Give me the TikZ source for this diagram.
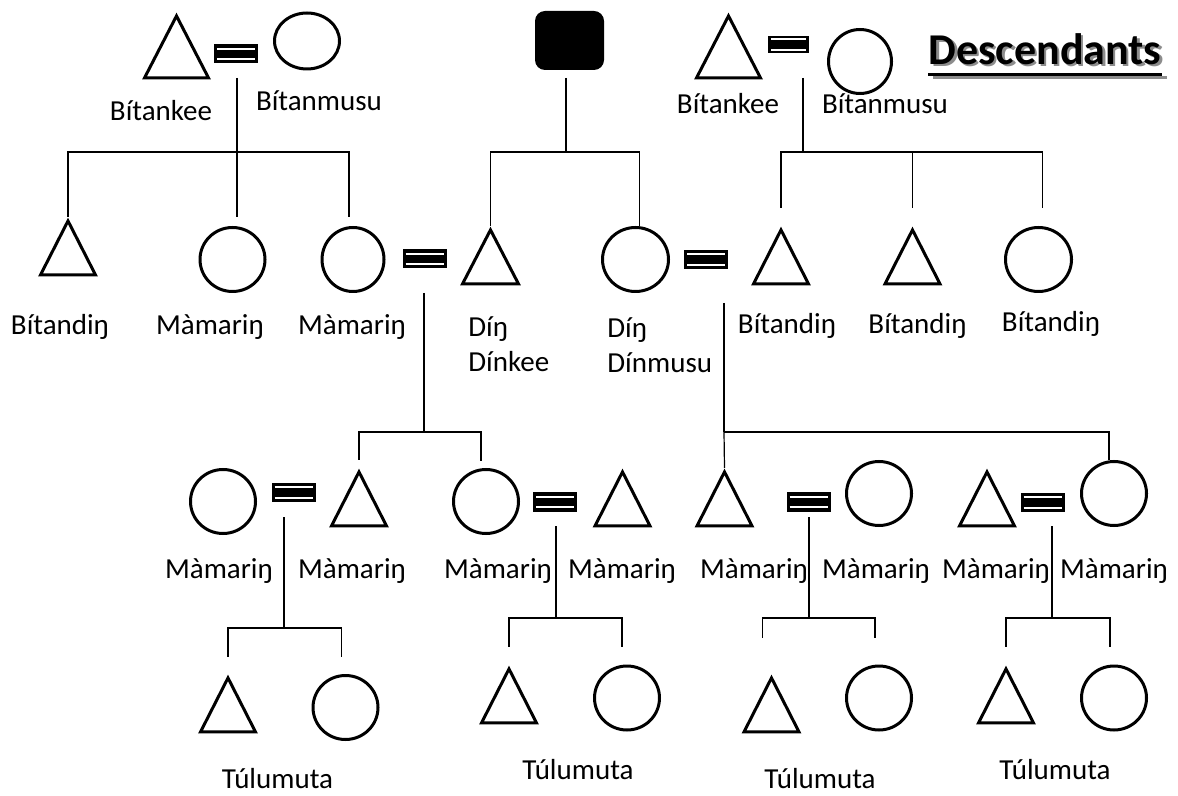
\documentclass[tikz,border=0pt]{standalone}
\usepackage{fontspec}
\setmainfont{Carlito}
\usetikzlibrary{shapes.geometric}

\begin{document}
\begin{tikzpicture}[x=0.5pt,y=-0.5pt,
  kee/.style={isosceles triangle, shape border rotate=90, isosceles triangle stretches,
    draw, line width=1.5pt, inner sep=0pt, anchor=apex, minimum width=27.5pt, minimum height=27pt},
  bigkee/.style={kee, minimum width=32pt, minimum height=31pt},
  musu/.style={ellipse, draw, line width=1.5pt, inner sep=0pt, minimum width=32.5pt, minimum height=32pt},
  wed/.style={rectangle, fill=black, inner sep=0pt, minimum width=22pt, minimum height=9.5pt,
    path picture={\draw[white, line width=1pt]
      ([xshift=1.5pt,yshift=2.7pt]path picture bounding box.west) -- ([xshift=-1.5pt,yshift=2.7pt]path picture bounding box.east)
      ([xshift=1.5pt,yshift=-2.7pt]path picture bounding box.west) -- ([xshift=-1.5pt,yshift=-2.7pt]path picture bounding box.east);}},
  link/.style={line width=0.6pt},
  lab/.style={inner sep=0pt, font=\fontsize{14.5}{17.5}\selectfont}]
\useasboundingbox (0,0) rectangle (1178,796);

% first generation
\node[bigkee] (keeL) at (176.5,12) {};
\node[wed] (wedL) at (236,54) {};
\node[musu, minimum width=32.5pt, minimum height=28pt] (musuL) at (307,41) {};
\node[rectangle, fill=black, rounded corners=5pt, minimum width=34.5pt, minimum height=29.5pt] (ego) at (569.5,40.5) {};
\node[bigkee] (keeR) at (728.5,12) {};
\node[wed, minimum width=20.5pt, minimum height=8.5pt] (wedR) at (788.5,44.5) {};
\node[musu, minimum width=31.5pt] (musuR) at (860,61.5) {};

\node[lab] (lkeeL) at (161,111) {Bítankee};
\node[lab] (lmusuL) at (319,101) {Bítanmusu};
\node[lab] (lkeeR) at (728,104) {Bítankee};
\node[lab] (lmusuR) at (885,104) {Bítanmusu};

% title
\node[inner sep=0pt, text=black!45, font=\fontsize{22}{26}\bfseries] (titleshade) at (1047.5,51.5) {Descendants};
\node[inner sep=0pt, font=\fontsize{22}{26}\bfseries] (title) at (1045,49) {Descendants};
\draw[line width=1.5pt, black!45] ([xshift=1.2pt,yshift=-5pt]titleshade.south west) -- ([xshift=1.2pt,yshift=-5pt]titleshade.south east);
\draw[line width=1.5pt] ([yshift=-5pt]title.south west) -- ([yshift=-5pt]title.south east);

% second generation
\node[kee] (t2a) at (68,217) {};
\node[musu] (c2a) at (232.5,259.5) {};
\node[musu, minimum width=31pt] (c2b) at (353,259.5) {};
\node[wed] (w2a) at (424.5,259) {};
\node[kee, minimum width=28pt] (t2b) at (490.5,226) {};
\node[musu, minimum width=33pt] (c2c) at (635.5,259.5) {};
\node[wed] (w2b) at (706,259.5) {};
\node[kee] (t2c) at (781,226) {};
\node[kee] (t2d) at (912.5,226) {};
\node[musu, minimum width=33pt] (c2d) at (1038.5,259.5) {};

\node[lab] (l2a) at (60,327) {Bítandiŋ};
\node[lab] (l2b) at (210,327) {Màmariŋ};
\node[lab] (l2c) at (352,327) {Màmariŋ};
\node[lab, align=left, anchor=west] (l2d) at (468,344.5) {Díŋ\\Dínkee};
\node[lab, align=left, anchor=west] (l2e) at (607,345) {Díŋ\\Dínmusu};
\node[lab] (l2f) at (787,326) {Bítandiŋ};
\node[lab] (l2g) at (917.5,326) {Bítandiŋ};
\node[lab] (l2h) at (1051,324) {Bítandiŋ};

% third generation
\node[musu] (c3a) at (223,501.5) {};
\node[wed] (w3a) at (293.5,492.5) {};
\node[kee] (t3a) at (359,468) {};
\node[musu] (c3b) at (486,501.5) {};
\node[wed] (w3b) at (555,502) {};
\node[kee] (t3b) at (622.5,468) {};
\node[kee] (t3c) at (724.5,468) {};
\node[wed] (w3c) at (808.5,502) {};
\node[musu] (c3c) at (879,493.5) {};
\node[kee] (t3d) at (987,468) {};
\node[wed] (w3d) at (1042.5,502.5) {};
\node[musu] (c3d) at (1114,493.5) {};

\node[lab] (l3a) at (219,571) {Màmariŋ};
\node[lab] (l3b) at (352,571) {Màmariŋ};
\node[lab] (l3c) at (498,571) {Màmariŋ};
\node[lab] (l3d) at (622,571) {Màmariŋ};
\node[lab] (l3e) at (754,571) {Màmariŋ};
\node[lab] (l3f) at (876,571) {Màmariŋ};
\node[lab] (l3g) at (996,571) {Màmariŋ};
\node[lab] (l3h) at (1114,571) {Màmariŋ};

% fourth generation
\node[kee] (t4a) at (228,674) {};
\node[musu] (c4a) at (345.5,707.5) {};
\node[kee] (t4b) at (509,665) {};
\node[musu] (c4b) at (627,698) {};
\node[kee] (t4c) at (771.5,674) {};
\node[musu] (c4c) at (879,698) {};
\node[kee] (t4d) at (1006,665) {};
\node[musu] (c4d) at (1114,698) {};

\node[lab] (l4a) at (277.5,779) {Túlumuta};
\node[lab] (l4b) at (578,770) {Túlumuta};
\node[lab] (l4c) at (820,779) {Túlumuta};
\node[lab] (l4d) at (1055,770) {Túlumuta};

% descent lines
\coordinate (dL) at (237,78);   \coordinate (bL) at (237,152);
\coordinate (dE) at (566,78);   \coordinate (bE) at (566,152);
\coordinate (dR) at (803,78);   \coordinate (bR) at (803,152);
\coordinate (d2a) at (424,293); \coordinate (b2a) at (424,432);
\coordinate (d2b) at (724,303); \coordinate (b2b) at (724,432);
\coordinate (d3a) at (284,517); \coordinate (b3a) at (284,628);
\coordinate (d3b) at (556,526); \coordinate (b3b) at (556,618);
\coordinate (d3c) at (809,517); \coordinate (b3c) at (809,618);
\coordinate (d3d) at (1052,526); \coordinate (b3d) at (1052,618);

\draw[link] (dL) -- (dL |- t2a.apex);
\draw[link] (bL) -| (t2a.apex);
\draw[link] (bL) -| ([xshift=-2pt,yshift=4.5pt]c2b.north);

\draw[link] (dE) -- (bE);
\draw[link] (bE) -| (t2b.apex);
\draw[link] (bE) -| ([xshift=2pt]c2c.north);

\draw[link] (dR) -- (bR);
\draw[link] (bR) -| ([yshift=9pt]t2c.apex);
\draw[link] (bR) -| ([yshift=9pt]t2d.apex);
\draw[link] (bR) -| ([xshift=2pt,yshift=9pt]c2d.north);

\draw[link] (d2a) -- (b2a);
\draw[link] (b2a) -| ([yshift=4pt]t3a.apex);
\draw[link] (b2a) -| ([xshift=-2.5pt,yshift=3.5pt]c3b.north);

\draw[link] (d2b) -- (b2b);
\draw[link] (b2b) -- (t3c.apex);
\draw[link] (b2b) -| ([xshift=-2.5pt]c3d.north);

\draw[link] (d3a) -- (b3a);
\draw[link] (b3a) -| ([yshift=8.5pt]t4a.apex);
\draw[link] (b3a) -| ([xshift=-2.2pt,yshift=8.5pt]c4a.north);

\draw[link] (d3b) -- (b3b);
\draw[link] (b3b) -| ([yshift=9pt]t4b.apex);
\draw[link] (b3b) -| ([xshift=-2.5pt,yshift=9pt]c4b.north);

\draw[link] (d3c) -- (b3c);
\draw[link] (b3c) -| ([xshift=-4.7pt,yshift=18pt]t4c.apex);
\draw[link] (b3c) -| ([xshift=-2pt,yshift=13.5pt]c4c.north);

\draw[link] (d3d) -- (b3d);
\draw[link] (b3d) -| ([yshift=9pt]t4d.apex);
\draw[link] (b3d) -| ([xshift=-2pt,yshift=9pt]c4d.north);
\end{tikzpicture}
\end{document}
